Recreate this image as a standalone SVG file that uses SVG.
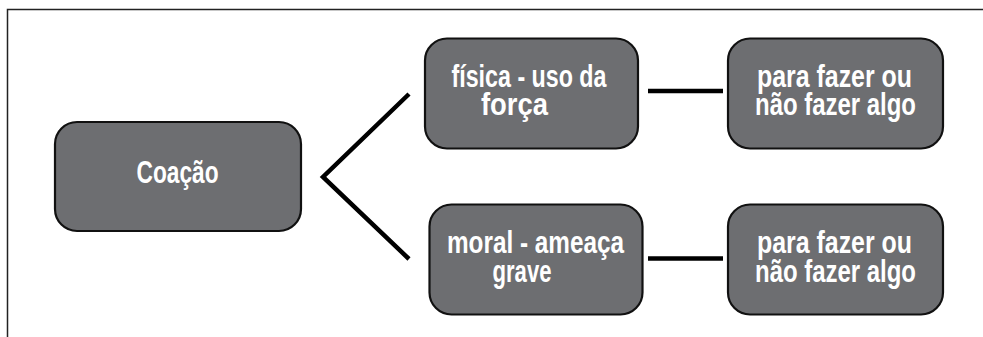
<svg xmlns="http://www.w3.org/2000/svg" width="983" height="337" viewBox="0 0 983 337">
<style>
.box{fill:#6d6e71;stroke:#111;stroke-width:2.2}
.lbl{font-family:"Liberation Sans",Arial,sans-serif;font-weight:bold;font-size:31px;fill:#fff;text-anchor:middle}
.con{stroke:#000;stroke-width:4.5;fill:none}
.frame{stroke:#222;stroke-width:1.5;fill:none}
</style>
<rect width="983" height="337" fill="#fff"/>
<path class="frame" d="M983,9.5 H7.5 V337"/>
<g id="connectors">
<polyline class="con" points="409,94 323,177 409,259"/>
<line class="con" x1="648" y1="91" x2="723" y2="91"/>
<line class="con" x1="648" y1="258.5" x2="723" y2="258.5"/>
</g>
<g id="coacao">
<rect class="box" x="55" y="122" width="246" height="109" rx="22"/>
<text class="lbl" x="177.5" y="183" textLength="82" lengthAdjust="spacingAndGlyphs">Coação</text>
</g>
<g id="fisica">
<rect class="box" x="425" y="38.5" width="213" height="110" rx="22"/>
<text class="lbl"><tspan x="529" y="87" textLength="155" lengthAdjust="spacingAndGlyphs">física - uso da</tspan><tspan x="514.5" y="115" textLength="67" lengthAdjust="spacingAndGlyphs">força</tspan></text>
</g>
<g id="fazer1">
<rect class="box" x="728" y="38.5" width="215" height="110" rx="22"/>
<text class="lbl"><tspan x="834.5" y="87" textLength="155" lengthAdjust="spacingAndGlyphs">para fazer ou</tspan><tspan x="835.5" y="115" textLength="161" lengthAdjust="spacingAndGlyphs">não fazer algo</tspan></text>
</g>
<g id="moral">
<rect class="box" x="429.5" y="204.5" width="213" height="110" rx="22"/>
<text class="lbl"><tspan x="535.5" y="253" textLength="177" lengthAdjust="spacingAndGlyphs">moral - ameaça</tspan><tspan x="522" y="281.5" textLength="59" lengthAdjust="spacingAndGlyphs">grave</tspan></text>
</g>
<g id="fazer2">
<rect class="box" x="728" y="204.5" width="215" height="110" rx="22"/>
<text class="lbl"><tspan x="834.5" y="253" textLength="155" lengthAdjust="spacingAndGlyphs">para fazer ou</tspan><tspan x="835.5" y="281.5" textLength="161" lengthAdjust="spacingAndGlyphs">não fazer algo</tspan></text>
</g>
</svg>
